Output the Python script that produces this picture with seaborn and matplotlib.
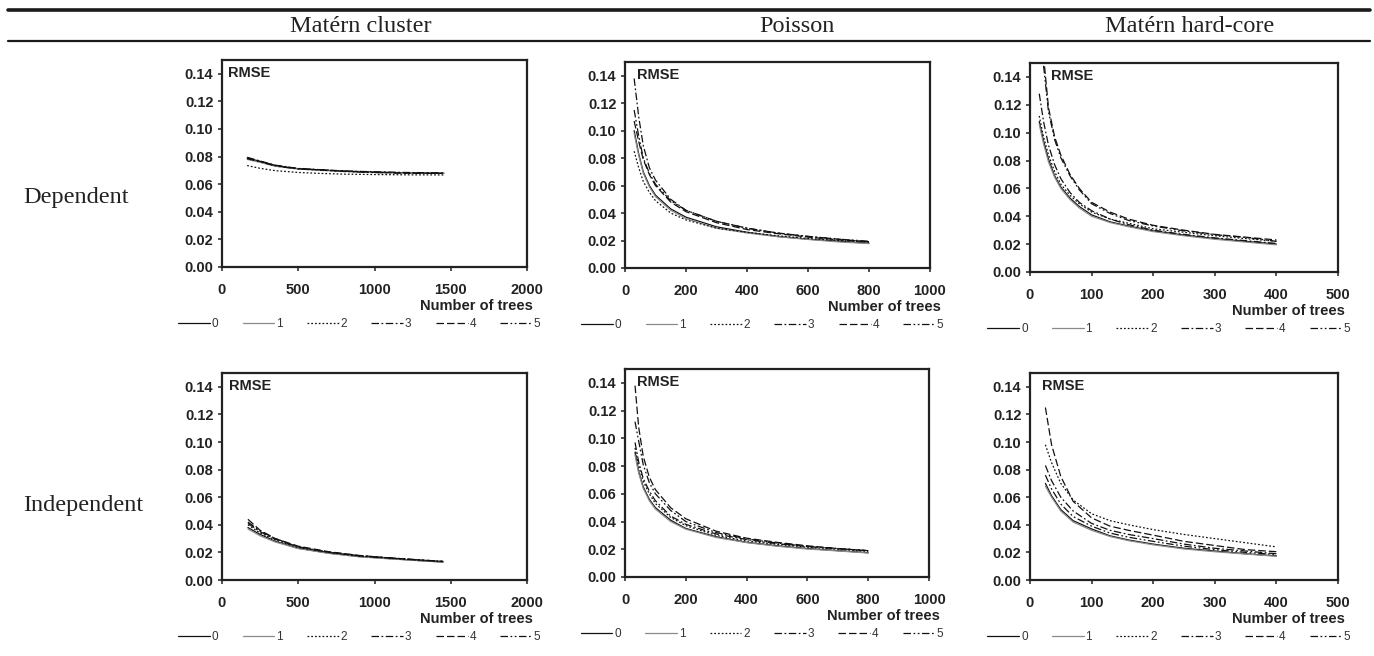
import matplotlib
matplotlib.use("Agg")
import numpy as np
import pandas as pd
import matplotlib.pyplot as plt
import seaborn as sns
from matplotlib.lines import Line2D
from matplotlib.ticker import MultipleLocator, FormatStrFormatter

# ---------------------------------------------------------------- labels
SERIES = ["0", "1", "2", "3", "4", "5"]
ROW_LABELS = ["Dependent", "Independent"]
COL_LABELS = ["Matérn cluster", "Poisson", "Matérn hard-core"]
X_MAX = [2000, 1000, 500]
X_STEP = [500, 200, 100]
X_LABEL = "Number of trees"
Y_LABEL = "RMSE"

# ---------------------------------------------------------------- data
# Dependent marks, Matérn cluster pattern
dep_cluster_x = [165, 250, 350, 500, 650, 800, 1000, 1200, 1455]
dep_cluster_rmse = [
    [0.0790, 0.0765, 0.0735, 0.0712, 0.0703, 0.0695, 0.0688, 0.0683, 0.0680],
    [0.0780, 0.0758, 0.0730, 0.0710, 0.0700, 0.0693, 0.0686, 0.0682, 0.0679],
    [0.0735, 0.0715, 0.0698, 0.0685, 0.0678, 0.0673, 0.0670, 0.0668, 0.0667],
    [0.0795, 0.0768, 0.0738, 0.0714, 0.0705, 0.0696, 0.0690, 0.0685, 0.0682],
    [0.0790, 0.0765, 0.0735, 0.0712, 0.0704, 0.0694, 0.0686, 0.0680, 0.0678],
    [0.0785, 0.0762, 0.0732, 0.0710, 0.0702, 0.0692, 0.0684, 0.0680, 0.0678],
]

# Dependent marks, Poisson pattern
dep_poisson_x = [30, 45, 60, 80, 100, 150, 200, 300, 400, 500, 600, 700, 800]
dep_poisson_rmse = [
    [0.100, 0.083, 0.070, 0.060, 0.053, 0.043, 0.037, 0.030, 0.026, 0.0230, 0.0210, 0.0195, 0.0180],
    [0.098, 0.082, 0.069, 0.059, 0.052, 0.042, 0.036, 0.029, 0.0255, 0.0228, 0.0208, 0.0190, 0.0178],
    [0.085, 0.073, 0.063, 0.055, 0.049, 0.040, 0.035, 0.029, 0.026, 0.0235, 0.0215, 0.0200, 0.0190],
    [0.138, 0.110, 0.089, 0.073, 0.064, 0.050, 0.042, 0.034, 0.029, 0.0255, 0.0230, 0.0210, 0.0190],
    [0.107, 0.092, 0.079, 0.068, 0.060, 0.048, 0.041, 0.033, 0.028, 0.0250, 0.0225, 0.0205, 0.0190],
    [0.115, 0.096, 0.080, 0.069, 0.061, 0.049, 0.042, 0.034, 0.029, 0.0255, 0.0230, 0.0210, 0.0195],
]

# Dependent marks, Matérn hard-core pattern (None: series not yet started)
dep_hardcore_x = [15, 22, 30, 40, 50, 65, 80, 100, 130, 160, 200, 250, 300, 350, 400]
dep_hardcore_rmse = [
    [0.108, 0.094, 0.081, 0.069, 0.061, 0.053, 0.047, 0.041, 0.036, 0.033, 0.0295, 0.0265, 0.0240, 0.0220, 0.0200],
    [0.106, 0.092, 0.079, 0.068, 0.060, 0.052, 0.046, 0.040, 0.0355, 0.0325, 0.0290, 0.0260, 0.0235, 0.0215, 0.0195],
    [0.112, 0.097, 0.084, 0.072, 0.063, 0.055, 0.049, 0.043, 0.038, 0.035, 0.0310, 0.0285, 0.0260, 0.0240, 0.0220],
    [0.128, 0.108, 0.091, 0.077, 0.067, 0.057, 0.050, 0.044, 0.038, 0.034, 0.0300, 0.0270, 0.0245, 0.0225, 0.0205],
    [None, 0.155, 0.118, 0.097, 0.084, 0.070, 0.060, 0.050, 0.043, 0.038, 0.0335, 0.0300, 0.0270, 0.0250, 0.0230],
    [None, 0.148, 0.115, 0.095, 0.082, 0.069, 0.059, 0.049, 0.042, 0.037, 0.0330, 0.0295, 0.0268, 0.0248, 0.0220],
]

# Independent marks, Matérn cluster pattern
ind_cluster_x = [170, 250, 350, 500, 700, 900, 1100, 1300, 1450]
ind_cluster_rmse = [
    [0.038, 0.0330, 0.0280, 0.0230, 0.0195, 0.0170, 0.0155, 0.0140, 0.0130],
    [0.037, 0.0320, 0.0275, 0.0228, 0.0193, 0.0168, 0.0153, 0.0140, 0.0130],
    [0.040, 0.0340, 0.0290, 0.0235, 0.0200, 0.0173, 0.0158, 0.0143, 0.0133],
    [0.041, 0.0350, 0.0295, 0.0240, 0.0200, 0.0175, 0.0160, 0.0145, 0.0135],
    [0.044, 0.0360, 0.0300, 0.0245, 0.0205, 0.0178, 0.0160, 0.0145, 0.0135],
    [0.042, 0.0355, 0.0300, 0.0240, 0.0202, 0.0176, 0.0160, 0.0145, 0.0135],
]

# Independent marks, Poisson pattern
ind_poisson_x = [33, 45, 60, 80, 100, 150, 200, 300, 400, 500, 600, 700, 800]
ind_poisson_rmse = [
    [0.090, 0.076, 0.065, 0.056, 0.050, 0.041, 0.0350, 0.0290, 0.0250, 0.0225, 0.0205, 0.0190, 0.0175],
    [0.088, 0.075, 0.064, 0.055, 0.049, 0.040, 0.0345, 0.0285, 0.0248, 0.0222, 0.0202, 0.0188, 0.0173],
    [0.093, 0.080, 0.069, 0.060, 0.053, 0.043, 0.0370, 0.0300, 0.0260, 0.0235, 0.0215, 0.0200, 0.0185],
    [0.097, 0.083, 0.071, 0.062, 0.055, 0.044, 0.0380, 0.0310, 0.0270, 0.0240, 0.0220, 0.0205, 0.0190],
    [0.138, 0.108, 0.087, 0.072, 0.063, 0.050, 0.0420, 0.0330, 0.0280, 0.0250, 0.0225, 0.0205, 0.0190],
    [0.112, 0.098, 0.081, 0.068, 0.060, 0.048, 0.0400, 0.0320, 0.0275, 0.0245, 0.0220, 0.0205, 0.0190],
]

# Independent marks, Matérn hard-core pattern
ind_hardcore_x = [25, 35, 50, 70, 100, 130, 160, 200, 250, 300, 350, 400]
ind_hardcore_rmse = [
    [0.070, 0.061, 0.051, 0.043, 0.037, 0.032, 0.0290, 0.0260, 0.0230, 0.0210, 0.0190, 0.0175],
    [0.068, 0.060, 0.050, 0.042, 0.036, 0.0315, 0.0285, 0.0255, 0.0225, 0.0205, 0.0188, 0.0172],
    [0.098, 0.085, 0.070, 0.058, 0.048, 0.043, 0.0400, 0.0365, 0.0330, 0.0300, 0.0270, 0.0240],
    [0.083, 0.072, 0.060, 0.050, 0.041, 0.036, 0.0330, 0.0300, 0.0260, 0.0230, 0.0210, 0.0190],
    [0.125, 0.098, 0.075, 0.057, 0.045, 0.039, 0.0360, 0.0325, 0.0280, 0.0250, 0.0220, 0.0205],
    [0.076, 0.066, 0.055, 0.046, 0.039, 0.034, 0.0310, 0.0280, 0.0245, 0.0220, 0.0200, 0.0185],
]

PANELS = [
    [(dep_cluster_x, dep_cluster_rmse), (dep_poisson_x, dep_poisson_rmse), (dep_hardcore_x, dep_hardcore_rmse)],
    [(ind_cluster_x, ind_cluster_rmse), (ind_poisson_x, ind_poisson_rmse), (ind_hardcore_x, ind_hardcore_rmse)],
]

# ---------------------------------------------------------------- styles
COLORS = {"0": "#111111", "1": "#8a8a8a", "2": "#111111",
          "3": "#111111", "4": "#111111", "5": "#111111"}
DASHES = {"0": "", "1": "", "2": (1.4, 1.6), "3": (6, 2, 1.4, 2),
          "4": (6, 2.4), "5": (6, 2, 1.4, 2, 1.4, 2)}

W, H = 1374, 656
# axes boxes in pixels: left, top, right, bottom
BOXES = [
    [(222, 60, 527, 267), (625, 62, 930, 268), (1030, 63, 1338, 272)],
    [(222, 373, 527, 580), (625, 369, 929, 577), (1030, 373, 1338, 580)],
]
RMSE_DX = [[6, 12, 21], [7, 12, 12]]
XLABEL_DX = [6, 11, 7]
XLABEL_DY = -39
LEGEND_DY = -57

sns.set_theme(style="ticks")
plt.rcParams["font.family"] = ["Liberation Sans", "DejaVu Sans"]
plt.rcParams["axes.edgecolor"] = "#222222"

fig = plt.figure(figsize=(W / 100, H / 100), dpi=100)
fig.patch.set_facecolor("white")


def long_form(xs, table):
    rows = []
    for name, ys in zip(SERIES, table):
        for x, y in zip(xs, ys):
            if y is not None:
                rows.append({"trees": x, "rmse": y, "series": name})
    return pd.DataFrame(rows)


for r in range(2):
    for c in range(3):
        left, top, right, bottom = BOXES[r][c]
        ax = fig.add_axes([left / W, 1 - bottom / H, (right - left) / W, (bottom - top) / H])
        xs, table = PANELS[r][c]
        df = long_form(xs, table)
        sns.lineplot(data=df, x="trees", y="rmse", hue="series", style="series",
                     hue_order=SERIES, style_order=SERIES, palette=COLORS,
                     dashes=DASHES, linewidth=0.9, errorbar=None, sort=True,
                     legend=False, ax=ax)
        ax.set_xlim(0, X_MAX[c])
        ax.set_ylim(0, 0.15)
        ax.xaxis.set_major_locator(MultipleLocator(X_STEP[c]))
        ax.yaxis.set_major_formatter(FormatStrFormatter("%.2f"))
        ax.set_yticks(np.arange(0, 0.141, 0.02))
        ax.set_xlabel("")
        ax.set_ylabel("")
        for sp in ax.spines.values():
            sp.set_visible(True)
            sp.set_linewidth(1.6)
            sp.set_color("#222222")
        ax.tick_params(axis="both", direction="out", length=3.2, width=1.1,
                       color="#222222", labelsize=10.5, labelcolor="#222222")
        ax.tick_params(axis="y", pad=3)
        ax.tick_params(axis="x", pad=8.5)
        for lab in ax.get_xticklabels() + ax.get_yticklabels():
            lab.set_fontweight("bold")
        ax.set_facecolor("white")

        ax.annotate(Y_LABEL, xy=(0, 1), xycoords="axes fraction",
                    xytext=(RMSE_DX[r][c], -13), textcoords="offset pixels",
                    ha="left", va="center", fontsize=10.5, fontweight="bold",
                    color="#222222")
        ax.annotate(X_LABEL, xy=(1, 0), xycoords="axes fraction",
                    xytext=(XLABEL_DX[c], XLABEL_DY), textcoords="offset pixels",
                    ha="right", va="center", fontsize=10.5, fontweight="bold",
                    color="#222222")

        handles = ax.get_lines()[:len(SERIES)]
        leg = ax.legend(handles, SERIES, loc="center", ncol=6, frameon=False,
                        bbox_to_anchor=(0.45, LEGEND_DY / (bottom - top)),
                        fontsize=8.5, handlelength=2.7, handletextpad=0.15,
                        columnspacing=2.05, borderaxespad=0, borderpad=0)
        for t in leg.get_texts():
            t.set_color("#333333")

# column headers, row headers and horizontal rules
serif = ["Liberation Serif", "DejaVu Serif"]
for label, cx in zip(COL_LABELS, [361, 797, 1190]):
    fig.text(cx / W, 1 - 27 / H, label, ha="center", va="center",
             fontsize=17.5, family=serif, color="#222222")
for label, cy in zip(ROW_LABELS, [198, 505]):
    fig.text(23 / W, 1 - cy / H, label, ha="left", va="center",
             fontsize=17.5, family=serif, color="#222222")

fig.add_artist(Line2D([8 / W, 1370 / W], [1 - 9.5 / H] * 2, lw=2.6,
                      color="#1a1a1a", transform=fig.transFigure))
fig.add_artist(Line2D([8 / W, 1370 / W], [1 - 41 / H] * 2, lw=1.6,
                      color="#1a1a1a", transform=fig.transFigure))

fig.savefig("out.png", dpi=100, facecolor="white")
